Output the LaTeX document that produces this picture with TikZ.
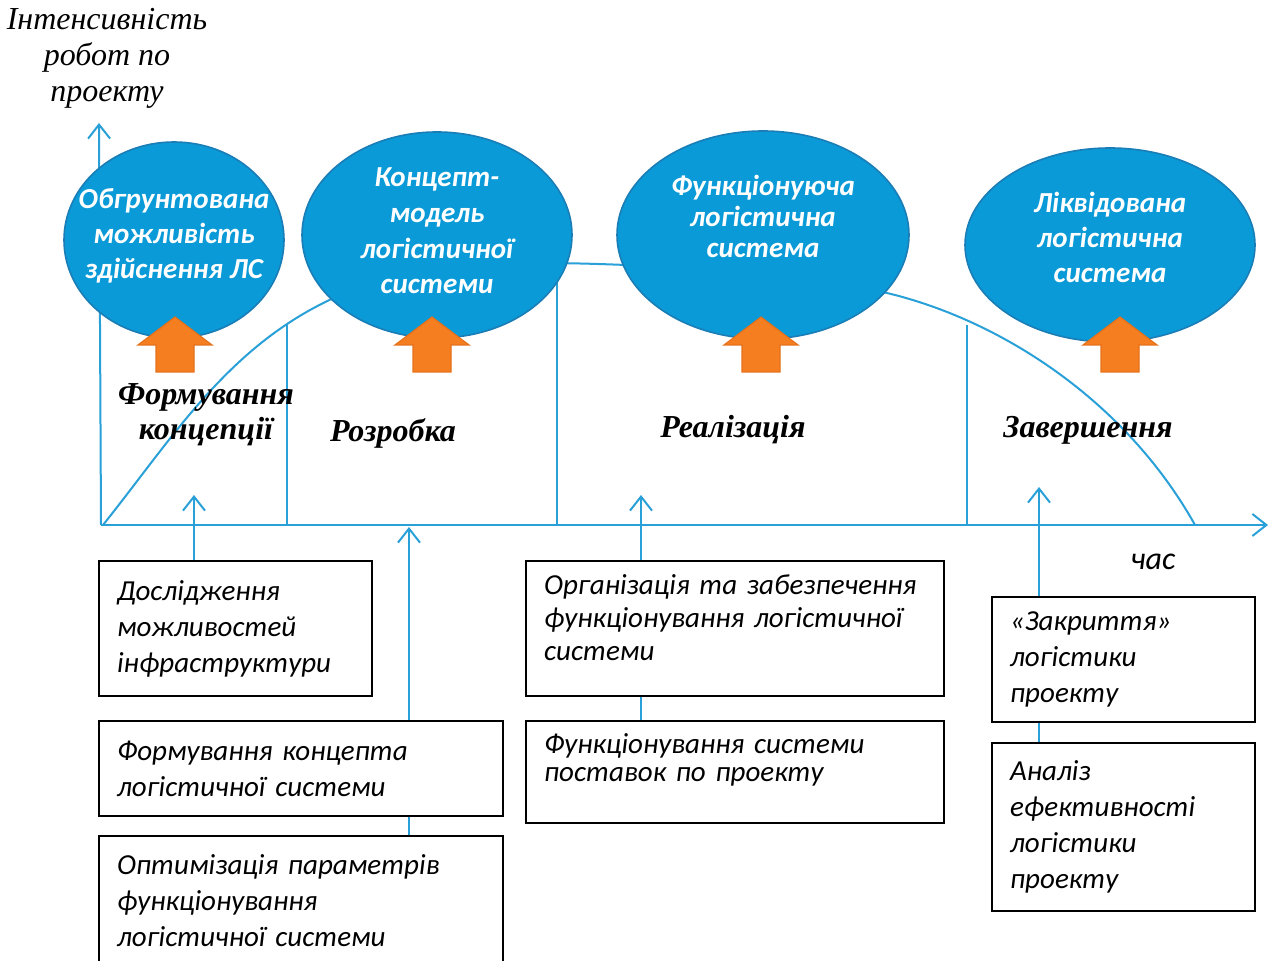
\documentclass[tikz,border=0pt]{standalone}
\usepackage{fontspec}
\setmainfont{Liberation Serif}
\setsansfont{Carlito}
\usepackage{xcolor}
\usepackage{tikz}
\usetikzlibrary{calc,arrows.meta,shapes.geometric}
\definecolor{sky}{HTML}{2AA0D8}
\definecolor{stagefill}{HTML}{0A9AD7}
\definecolor{stageedge}{HTML}{1A7DB5}
\definecolor{flame}{HTML}{F57F20}
\definecolor{flameedge}{HTML}{E5711A}
\tikzset{
  axis/.style={-{Straight Barb[length=7pt,width=11pt]}, draw=sky, line width=1pt},
  curve/.style={draw=sky, line width=1pt},
  divider/.style={draw=sky, line width=1pt},
  link/.style={draw=sky, line width=1pt},
  linkarrow/.style={link, -{Straight Barb[length=7pt,width=11pt]}},
  stage/.style={ellipse, fill=stagefill, draw=stageedge, line width=0.8pt, inner sep=0pt},
  stagetext/.style={text=white, align=center, inner sep=0pt,
    font=\sffamily\bfseries\itshape\fontsize{14.5}{17.5}\selectfont},
  push/.style={fill=flame, draw=flameedge, line width=0.6pt},
  phase/.style={align=center, font=\bfseries\itshape\fontsize{16}{17.5}\selectfont},
  lab/.style={align=center, font=\itshape\fontsize{16}{18}\selectfont},
  note/.style={font=\sffamily\itshape\fontsize{16}{18}\selectfont},
  task/.style={draw=black, line width=1.1pt, fill=white, anchor=north west, align=left,
    inner xsep=9pt, inner ysep=0pt, font=\sffamily\itshape\fontsize{14.5}{18}\selectfont}
}

\begin{document}
\begin{tikzpicture}[x=0.5pt,y=-0.5pt]
  \useasboundingbox (0,0) rectangle (1272,961);

  \coordinate (O) at (101,525);
  \coordinate (ytip) at (99,123);
  \coordinate (xtip) at (1268,525);

  \draw[axis] (O) -- (ytip);
  \draw[axis] (O) -- (xtip);
  \node[lab] (ylab) at (107,58) {Інтенсивність\\робот по\\проекту};
  \node[note] (tlab) at (1153,562) {час};

  % intensity over the life cycle
  \draw[curve] (103,525) .. controls (195,410) and (260,290) .. (450,266)
    .. controls (520,258) and (760,265) .. (887,293)
    .. controls (1000,320) and (1125,400) .. (1195,525);

  \draw[divider] (287,325) -- (287,525);
  \draw[divider] (557,270) -- (557,525);
  \draw[divider] (967,325) -- (967,525);

  \node[stage, minimum width=110pt, minimum height=98pt] (s1) at (174,240) {};
  \node[stage, minimum width=135pt, minimum height=103pt] (s2) at (437,235) {};
  \node[stage, minimum width=146pt, minimum height=104pt] (s3) at (763,235) {};
  \node[stage, minimum width=145pt, minimum height=97pt] (s4) at (1110,245) {};

  \node[stagetext] (s1t) at (174,236) {Обгрунтована\\можливість\\здійснення ЛС};
  \node[stagetext, font=\sffamily\bfseries\itshape\fontsize{14.5}{17.8}\selectfont] (s2t) at (437,231) {Концепт-\\модель\\логістичної\\системи};
  \node[stagetext, font=\sffamily\bfseries\itshape\fontsize{14.5}{15.5}\selectfont] (s3t) at (763,216) {Функціонуюча\\логістична\\система};
  \node[stagetext] (s4t) at (1110,237) {Ліквідована\\логістична\\система};

  \foreach \px in {175,432,761,1120}
    \filldraw[push] (\px,317) -- ++(37,28) -- ++(-18,0) -- ++(0,27) -- ++(-38,0)
      -- ++(0,-27) -- ++(-18,0) -- cycle;

  \node[phase] (f1) at (206,415) {Формування\\концепції};
  \node[phase] (f2) at (393,433) {Розробка};
  \node[phase] (f3) at (733,430) {Реалізація};
  \node[phase] (f4) at (1088,430) {Завершення};

  \node[task, text width=118.5pt, minimum height=67.5pt] (b1) at (98,560)
    {Дослідження\\можливостей\\інфраструктури};
  \node[task, text width=184pt, minimum height=47.5pt] (b2) at (98,720)
    {Формування концепта\\логістичної системи};
  \node[task, text width=184pt, minimum height=64.5pt] (b3) at (98,835)
    {Оптимізація параметрів\\функціонування\\логістичної системи};
  \node[task, text width=191pt, minimum height=67.5pt, text height=10pt, text depth=44.5pt,
    font=\sffamily\itshape\fontsize{14.5}{16.5}\selectfont] (b4) at (525,560)
    {Організація та забезпечення\\функціонування логістичної\\системи};
  \node[task, text width=191pt, minimum height=51pt, text height=10pt, text depth=29pt,
    font=\sffamily\itshape\fontsize{14.5}{14}\selectfont] (b5) at (525,720)
    {Функціонування системи\\поставок по проекту};
  \node[task, text width=113.5pt, minimum height=62.5pt] (b6) at (991,596)
    {«Закриття»\\логістики\\проекту};
  \node[task, text width=113.5pt, minimum height=84pt] (b7) at (991,742)
    {Аналіз\\ефективності\\логістики\\проекту};

  \coordinate (t1) at (194,495);
  \coordinate (t2) at (409,527);
  \coordinate (t3) at (641,495);
  \coordinate (t4) at (1039,487);

  \draw[linkarrow] (b1.north -| t1) -- (t1);
  \draw[link] (b3.north -| t2) -- (b2.south -| t2);
  \draw[linkarrow] (b2.north -| t2) -- (t2);
  \draw[linkarrow] (b4.north -| t3) -- (t3);
  \draw[link] (b4.south -| t3) -- (b5.north -| t3);
  \draw[linkarrow] (b6.north -| t4) -- (t4);
  \draw[link] (b6.south -| t4) -- (b7.north -| t4);
\end{tikzpicture}
\end{document}
